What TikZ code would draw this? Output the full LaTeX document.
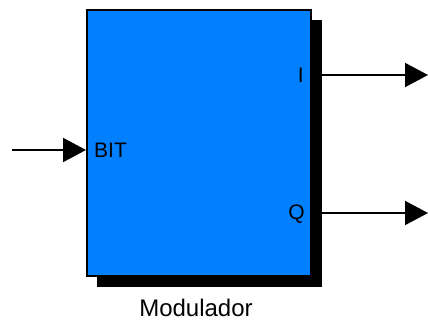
\documentclass[tikz,border=0pt]{standalone}
\usepackage{fontspec}
\setmainfont{Liberation Sans}
\usepackage{tikz}
\usetikzlibrary{arrows.meta,calc,positioning}
\definecolor{blockblue}{RGB}{0,128,255}

\begin{document}
\begin{tikzpicture}[x=1pt, y=-1pt,
    sig/.style={line width=2pt, -{Triangle[length=23pt,width=24pt]}},
    port/.style={font=\fontsize{21}{21}\selectfont, inner sep=0pt}]
            % Frame of the picture
            \useasboundingbox (0,0) rectangle (428,320);
            % Define points
            \coordinate (in) at (12,150);
            \coordinate (outI) at (428,75);
            \coordinate (outQ) at (428,213);
            % Draw the shadow and the block
            \node[fill=black, draw=black, line width=1pt, inner sep=0pt,
                  minimum width=224pt, minimum height=266pt] (shadow) at (209.5,153.5) {};
            \node[fill=blockblue, draw=black, line width=2pt, inner sep=0pt,
                  minimum width=224pt, minimum height=266pt] (mod) at (199,143) {};
            % Label the ports
            \node[port, anchor=west] (bit) at (94,150) {BIT};
            \node[port, anchor=east] (i) at (304,75) {I};
            \node[port, anchor=east] (q) at (305,214) {Q};
            \node[font=\fontsize{24}{24}\selectfont, inner sep=0pt, anchor=base]
                (name) at (196,316) {Modulador};
            % Draw the signals
            \draw[sig] (in) -- (mod.west |- in);
            \draw[sig] (shadow.east |- outI) -- (outI);
            \draw[sig] (shadow.east |- outQ) -- (outQ);
\end{tikzpicture}
\end{document}
